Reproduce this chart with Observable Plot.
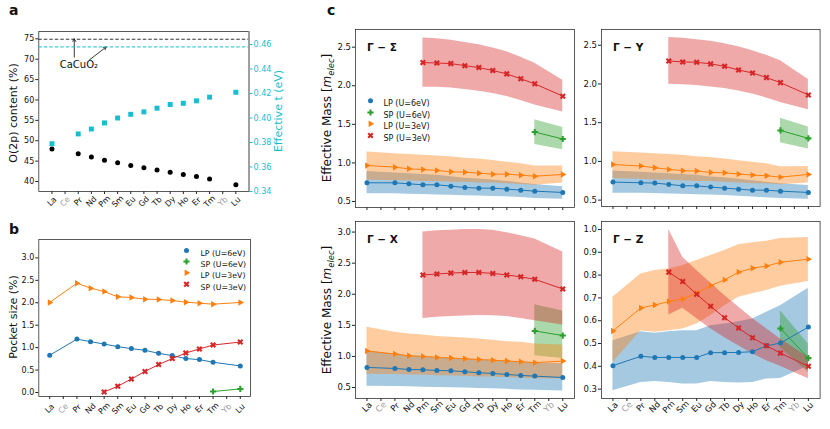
<!DOCTYPE html>
<html><head><meta charset="utf-8">
<script src="https://cdn.jsdelivr.net/npm/d3@7"></script>
<script src="https://cdn.jsdelivr.net/npm/@observablehq/plot@0.6"></script>
<style>
body{margin:0;background:#fff;font-family:"DejaVu Sans",sans-serif;}
#root{position:relative;width:830px;height:429px;overflow:hidden;background:#fff;}
.t{position:absolute;white-space:nowrap;line-height:1;color:#111;}
.rot{transform:translate(-50%,-50%) rotate(-90deg);}
</style></head><body><div id="root"></div><script>
// ---------- categories ----------
const elements = ["La","Ce","Pr","Nd","Pm","Sm","Eu","Gd","Tb","Dy","Ho","Er","Tm","Yb","Lu"];
const grayElements = ["Ce","Yb"];
const elLP = ["La","Pr","Nd","Pm","Sm","Eu","Gd","Tb","Dy","Ho","Er","Tm","Lu"];
const elSP3 = ["Pm","Sm","Eu","Gd","Tb","Dy","Ho","Er","Tm","Lu"];
const elSP6 = ["Tm","Lu"];
const seriesNames = ["LP (U=6eV)","SP (U=6eV)","LP (U=3eV)","SP (U=3eV)"];

// ---------- panel a ----------
const o2pContent = [48.0,46.8,46.0,45.2,44.6,43.9,43.4,42.8,42.3,41.75,41.25,40.6,39.2];
const effectiveT = [0.379,0.387,0.391,0.396,0.400,0.403,0.405,0.408,0.411,0.412,0.414,0.417,0.421];
const caCuO2O2p = [74.9];
const caCuO2T = [0.458];
const annotText = [{t:"CaCuO₂", x:2.05, y:68.6}];
const annotArrows = [{x1:1.7,y1:70.5,x2:1.7,y2:75.0},{x1:2.86,y1:69.85,x2:4.13,y2:73.0}];
const ticksO2p = [40,45,50,55,60,65,70,75];
const ticksT = [0.34,0.36,0.38,0.40,0.42,0.44,0.46];

// ---------- panel b ----------
const pocketLP6 = [0.83,1.19,1.133,1.08,1.022,0.978,0.94,0.873,0.822,0.756,0.733,0.674,0.593];
const pocketSP6 = [0.022,0.08];
const pocketLP3 = [2.007,2.436,2.325,2.25,2.133,2.118,2.08,2.073,2.05,2.013,1.99,1.969,2.007];
const pocketSP3 = [0.013,0.14,0.30,0.47,0.622,0.756,0.88,0.97,1.058,1.124];
const ticksPocket = [0,0.5,1,1.5,2,2.5,3];

// ---------- panel c : Γ−Σ ----------
const gsLP6 = [0.742,0.742,0.729,0.716,0.716,0.699,0.681,0.673,0.673,0.660,0.647,0.634,0.617];
const gsLP6Lo = [0.60,0.60,0.595,0.59,0.585,0.58,0.575,0.57,0.565,0.56,0.55,0.54,0.53];
const gsLP6Hi = [0.89,0.87,0.86,0.85,0.84,0.82,0.80,0.79,0.78,0.76,0.74,0.72,0.69];
const gsSP6 = [1.40,1.31], gsSP6Lo = [1.24,1.17], gsSP6Hi = [1.56,1.46];
const gsLP3 = [0.967,0.945,0.923,0.915,0.902,0.884,0.880,0.867,0.854,0.854,0.841,0.828,0.850];
const gsLP3Lo = [0.78,0.77,0.77,0.76,0.76,0.75,0.75,0.74,0.74,0.73,0.72,0.71,0.74];
const gsLP3Hi = [1.14,1.12,1.11,1.10,1.09,1.08,1.06,1.05,1.03,1.01,0.99,0.96,0.96];
const gsSP3 = [2.300,2.295,2.287,2.260,2.236,2.197,2.154,2.090,2.025,1.865];
const gsSP3Lo = [1.98,1.98,1.97,1.95,1.93,1.90,1.86,1.81,1.75,1.66];
const gsSP3Hi = [2.62,2.61,2.59,2.56,2.53,2.49,2.44,2.37,2.29,2.07];
// ---------- Γ−Y ----------
const gyLP6 = [0.733,0.724,0.720,0.703,0.685,0.685,0.668,0.655,0.642,0.629,0.629,0.616,0.599];
const gyLP6Lo = [0.59,0.59,0.585,0.58,0.575,0.57,0.565,0.56,0.55,0.54,0.53,0.52,0.51];
const gyLP6Hi = [0.875,0.86,0.85,0.84,0.83,0.82,0.80,0.79,0.77,0.75,0.73,0.71,0.69];
const gySP6 = [1.40,1.297], gySP6Lo = [1.24,1.16], gySP6Hi = [1.556,1.444];
const gyLP3 = [0.960,0.940,0.918,0.897,0.880,0.875,0.858,0.853,0.836,0.823,0.815,0.797,0.832];
const gyLP3Lo = [0.78,0.77,0.76,0.76,0.75,0.74,0.74,0.73,0.72,0.71,0.71,0.70,0.72];
const gyLP3Hi = [1.125,1.11,1.10,1.09,1.08,1.06,1.05,1.03,1.01,0.99,0.97,0.93,0.935];
const gySP3 = [2.297,2.284,2.280,2.259,2.228,2.180,2.142,2.082,2.017,1.858];
const gySP3Lo = [1.995,1.99,1.98,1.96,1.94,1.91,1.87,1.82,1.76,1.668];
const gySP3Hi = [2.60,2.59,2.57,2.55,2.52,2.48,2.43,2.37,2.30,2.056];
// ---------- Γ−X ----------
const gxLP6 = [0.823,0.806,0.790,0.785,0.774,0.769,0.753,0.737,0.726,0.710,0.694,0.683,0.661];
const gxLP6Lo = [0.52,0.515,0.51,0.505,0.50,0.495,0.49,0.485,0.48,0.47,0.46,0.455,0.445];
const gxLP6Hi = [1.09,1.04,1.01,1.0,0.985,0.975,0.96,0.95,0.94,0.925,0.91,0.90,0.88];
const gxSP6 = [1.41,1.335], gxSP6Lo = [1.01,0.968], gxSP6Hi = [1.83,1.73];
const gxLP3 = [1.086,1.038,1.010,1.000,0.984,0.973,0.962,0.950,0.940,0.925,0.914,0.900,0.925];
const gxLP3Lo = [0.715,0.71,0.70,0.70,0.69,0.69,0.68,0.67,0.67,0.66,0.65,0.64,0.635];
const gxLP3Hi = [1.468,1.387,1.36,1.344,1.32,1.31,1.296,1.28,1.258,1.237,1.226,1.20,1.183];
const gxSP3 = [2.31,2.325,2.34,2.35,2.35,2.335,2.31,2.28,2.24,2.085];
const gxSP3Lo = [1.61,1.63,1.64,1.65,1.66,1.655,1.64,1.61,1.575,1.505];
const gxSP3Hi = [3.0,3.02,3.03,3.04,3.04,3.03,2.99,2.94,2.89,2.68];
// ---------- Γ−Z ----------
const gzLP6 = [0.403,0.444,0.439,0.439,0.439,0.439,0.46,0.46,0.461,0.464,0.49,0.502,0.572];
const gzLP6Lo = [0.293,0.329,0.334,0.329,0.322,0.322,0.334,0.329,0.327,0.329,0.344,0.347,0.40];
const gzLP6Hi = [0.512,0.552,0.545,0.552,0.556,0.556,0.578,0.586,0.596,0.608,0.637,0.666,0.742];
const gzSP6 = [0.566,0.436], gzSP6Lo = [0.483,0.373], gzSP6Hi = [0.644,0.498];
const gzLP3 = [0.555,0.656,0.669,0.684,0.695,0.722,0.754,0.779,0.813,0.830,0.840,0.856,0.870];
const gzLP3Lo = [0.417,0.556,0.549,0.556,0.564,0.586,0.622,0.666,0.703,0.718,0.732,0.751,0.772];
const gzLP3Hi = [0.703,0.805,0.82,0.827,0.842,0.864,0.886,0.908,0.933,0.942,0.948,0.96,0.965];
const gzSP3 = [0.813,0.772,0.716,0.663,0.613,0.568,0.525,0.490,0.458,0.400];
const gzSP3Lo = [0.625,0.655,0.61,0.565,0.525,0.49,0.455,0.425,0.40,0.345];
const gzSP3Hi = [1.0,0.878,0.82,0.765,0.71,0.66,0.61,0.565,0.52,0.44];
const ticksMassTop = [0.5,1.0,1.5,2.0,2.5];
const ticksMassX = [0.5,1.0,1.5,2.0,2.5,3.0];
const ticksMassZ = [0.3,0.4,0.5,0.6,0.7,0.8,0.9,1.0];

// ---------- styles ----------
const styles = [
  {color:"#1f77b4", symbol:"circle", rotate:0, r:2.5},
  {color:"#2ca02c", symbol:"cross", rotate:0, r:2.6},
  {color:"#ff7f0e", symbol:"triangle", rotate:90, r:2.4},
  {color:"#d62728", symbol:"cross", rotate:45, r:2.7}
];
const root = document.getElementById("root");
function css(fs){return {fontFamily:"'DejaVu Sans', sans-serif", fontSize: fs+"px", background:"transparent", overflow:"visible", maxWidth:"none", color:"#111"};}
function place(node, left, top){node.style.position="absolute";node.style.left=left+"px";node.style.top=top+"px";root.appendChild(node);}
function addText(html, left, top, extra){const d=document.createElement("div");d.className="t "+(extra.cls||"");d.innerHTML=html;d.style.left=left+"px";d.style.top=top+"px";d.style.fontSize=extra.fs+"px";if(extra.bold)d.style.fontWeight="bold";if(extra.color)d.style.color=extra.color;root.appendChild(d);}
const rowsOf = (els, v, lo, hi) => els.map((e,k) => ({x: elements.indexOf(e), y: v[k], lo: lo ? lo[k] : undefined, hi: hi ? hi[k] : undefined}));
function xTickMarks(dy, withLabels){
  const idx = elements.map((_,i)=>i);
  const marks = [Plot.axisX(idx, {tickSize:3, tickFormat:()=>"", label:null, stroke:"#222"})];
  if (withLabels) {
    const lab = elements.map((e,i)=>({i,e}));
    const opts = {x:"i", text:"e", frameAnchor:"bottom", dy, rotate:-45, textAnchor:"middle", lineAnchor:"middle"};
    marks.push(Plot.text(lab.filter(d=>!grayElements.includes(d.e)), {...opts, fill:"#111"}));
    marks.push(Plot.text(lab.filter(d=>grayElements.includes(d.e)), {...opts, fill:"#a0a0a0"}));
  }
  return marks;
}
function seriesMarks(series, withBands){
  const m = [];
  if (withBands) series.forEach((rows,s)=>m.push(Plot.areaY(rows,{x:"x",y1:"lo",y2:"hi",fill:styles[s].color,fillOpacity:0.4})));
  series.forEach((rows,s)=>{
    m.push(Plot.line(rows,{x:"x",y:"y",stroke:styles[s].color,strokeWidth:1}));
    m.push(Plot.dot(rows,{x:"x",y:"y",fill:styles[s].color,symbol:styles[s].symbol,rotate:styles[s].rotate,r:styles[s].r}));
  });
  return m;
}
function legendMarks(dxM, dxT, dys, fs){
  const m = [];
  seriesNames.forEach((name,s)=>{
    m.push(Plot.dot([0],{frameAnchor:"top-left",dx:dxM,dy:dys[s],fill:styles[s].color,symbol:styles[s].symbol,rotate:styles[s].rotate,r:styles[s].r}));
    m.push(Plot.text([name],{frameAnchor:"top-left",dx:dxT,dy:dys[s],textAnchor:"start",fontSize:fs,fill:"#111"}));
  });
  return m;
}

// ---------- panel a ----------
const aRowsO2p = rowsOf(elLP, o2pContent);
const aRowsT = rowsOf(elLP, effectiveT);
const aGeom = {width:290, height:225, marginLeft:38.3, marginRight:41.5, marginTop:31, marginBottom:34};
place(Plot.plot({...aGeom, style:css(8),
  x:{domain:[-1,15]}, y:{domain:[37.55,76.8]},
  marks:[
    Plot.ruleY(caCuO2O2p,{stroke:"#333",strokeDasharray:"3.5,2",strokeWidth:1}),
    Plot.arrow(annotArrows,{x1:"x1",y1:"y1",x2:"x2",y2:"y2",stroke:"#222",strokeWidth:0.9,headLength:5}),
    Plot.text(annotText,{x:"x",y:"y",text:"t",fontSize:10,fill:"#111"}),
    Plot.dot(aRowsO2p,{x:"x",y:"y",r:2.5,fill:"#000"}),
    Plot.axisY(ticksO2p,{tickSize:3,tickPadding:1.5,label:null,stroke:"#222"}),
    ...xTickMarks(10, true),
    Plot.frame({stroke:"#333",strokeWidth:0.8})
  ]}), 0, 0);
place(Plot.plot({...aGeom, style:css(8),
  x:{domain:[-1,15], axis:null}, y:{domain:[0.34,0.4706]},
  marks:[
    Plot.ruleY(caCuO2T,{stroke:"#17becf",strokeDasharray:"3.5,2",strokeWidth:1}),
    Plot.dot(aRowsT,{x:"x",y:"y",r:2.8,symbol:"square",fill:"#17becf"}),
    Plot.axisY(ticksT,{anchor:"right",tickSize:3,tickPadding:1.5,label:null,stroke:"#17becf",fill:"#17becf",tickFormat:d3.format(".2f")}),
    Plot.ruleX([15],{stroke:"#999",strokeWidth:1.4})
  ]}), 0, 0);

// ---------- panel b ----------
const bSeries = [rowsOf(elLP,pocketLP6), rowsOf(elSP6,pocketSP6), rowsOf(elLP,pocketLP3), rowsOf(elSP3,pocketSP3)];
place(Plot.plot({width:290, height:214, marginLeft:38.3, marginRight:40, marginTop:24, marginBottom:33, style:css(8),
  x:{domain:[-0.8,14.75]}, y:{domain:[-0.089,3.41]},
  marks:[
    ...seriesMarks(bSeries,false),
    Plot.axisY(ticksPocket,{tickSize:3,tickPadding:1.5,label:null,stroke:"#222",tickFormat:d3.format(".1f")}),
    ...xTickMarks(12, true),
    ...legendMarks(147.7,161.7,[11,22,33.3,44.7],7.8),
    Plot.frame({stroke:"#333",strokeWidth:0.8})
  ]}), 0, 215);

// ---------- panel c ----------
function massPanel(series, yDomain, ticks, title, withLabels, legend, fl, ft, fw, fh){
  const ml=30, mr=3, mt=4, mb = withLabels ? 31 : 8;
  const marks = [
    ...seriesMarks(series,true),
    Plot.axisY(ticks,{tickSize:3,tickPadding:1.5,label:null,stroke:"#222",tickFormat:d3.format(".1f")}),
    ...xTickMarks(8.5, withLabels),
    Plot.text([title],{frameAnchor:"top-left",dx:11.5,dy:14.5,textAnchor:"start",fontWeight:"bold",fontSize:10.5,fill:"#111"})
  ];
  if (legend) marks.push(...legendMarks(15,28,[71.3,83,94.3,106],8));
  marks.push(Plot.frame({stroke:"#333",strokeWidth:0.8}));
  place(Plot.plot({width:fw+ml+mr, height:fh+mt+mb, marginLeft:ml, marginRight:mr, marginTop:mt, marginBottom:mb, style:css(8.5),
    x:{domain:[-0.82,14.84]}, y:{domain:yDomain}, marks}), fl-ml, ft-mt);
}
const cS = [rowsOf(elLP,gsLP6,gsLP6Lo,gsLP6Hi), rowsOf(elSP6,gsSP6,gsSP6Lo,gsSP6Hi), rowsOf(elLP,gsLP3,gsLP3Lo,gsLP3Hi), rowsOf(elSP3,gsSP3,gsSP3Lo,gsSP3Hi)];
const cY = [rowsOf(elLP,gyLP6,gyLP6Lo,gyLP6Hi), rowsOf(elSP6,gySP6,gySP6Lo,gySP6Hi), rowsOf(elLP,gyLP3,gyLP3Lo,gyLP3Hi), rowsOf(elSP3,gySP3,gySP3Lo,gySP3Hi)];
const cX = [rowsOf(elLP,gxLP6,gxLP6Lo,gxLP6Hi), rowsOf(elSP6,gxSP6,gxSP6Lo,gxSP6Hi), rowsOf(elLP,gxLP3,gxLP3Lo,gxLP3Hi), rowsOf(elSP3,gxSP3,gxSP3Lo,gxSP3Hi)];
const cZ = [rowsOf(elLP,gzLP6,gzLP6Lo,gzLP6Hi), rowsOf(elSP6,gzSP6,gzSP6Lo,gzSP6Hi), rowsOf(elLP,gzLP3,gzLP3Lo,gzLP3Hi), rowsOf(elSP3,gzSP3,gzSP3Lo,gzSP3Hi)];
massPanel(cS,[0.422,2.729],ticksMassTop,"Γ − Σ",false,true,355,29,219,178);
massPanel(cY,[0.418,2.703],ticksMassTop,"Γ − Y",false,false,600.7,29,218.6,177);
massPanel(cX,[0.323,3.17],ticksMassX,"Γ − X",true,false,355,221,219,177);
massPanel(cZ,[0.259,1.035],ticksMassZ,"Γ − Z",true,false,600.7,221,218.6,177);

// ---------- titles ----------
addText("a",9,3.2,{fs:14,bold:true});
addText("b",9,221.5,{fs:14,bold:true});
addText("c",327,3.2,{fs:14,bold:true});
addText("O(2p) content (%)",12.5,113,{fs:11,cls:"rot"});
addText("Effective t (eV)",278,111,{fs:11,cls:"rot",color:"#17becf"});
addText("Pocket size (%)",12.5,317,{fs:11,cls:"rot"});
addText("Effective Mass [<i>m</i><sub style='font-size:0.7em;font-style:italic'>elec</sub>]",328,118,{fs:12,cls:"rot"});
addText("Effective Mass [<i>m</i><sub style='font-size:0.7em;font-style:italic'>elec</sub>]",328,309.5,{fs:12,cls:"rot"});
</script></body></html>
